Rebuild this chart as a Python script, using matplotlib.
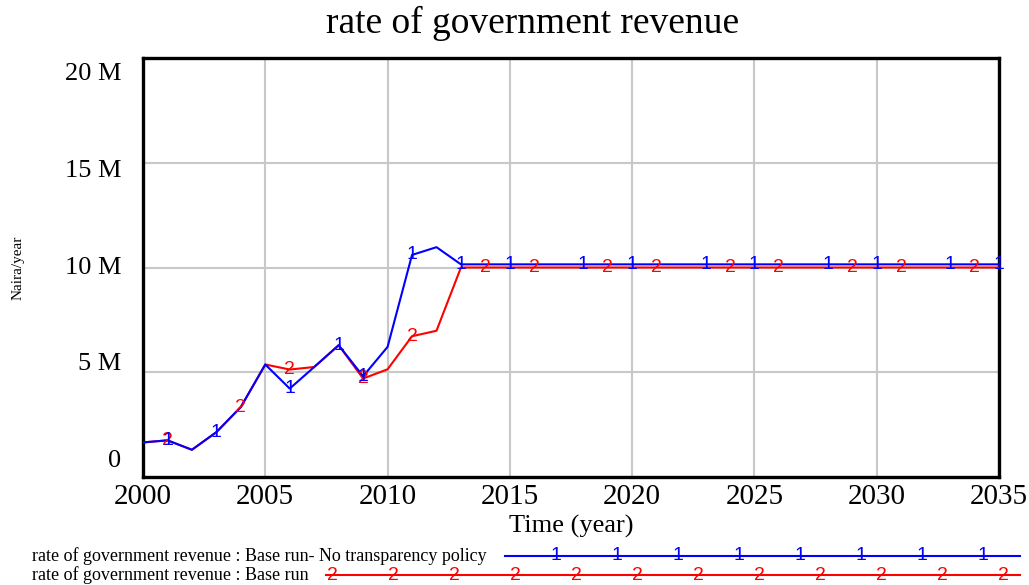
import matplotlib
matplotlib.use("Agg")
import matplotlib.pyplot as plt
import numpy as np
from matplotlib.transforms import ScaledTranslation, blended_transform_factory

# ---- data ----
years = list(range(2000, 2036))
no_transparency = [1.65, 1.75, 1.30, 2.14, 3.34, 5.37, 4.22, 5.25, 6.29, 4.81,
                   6.21, 10.60, 10.97, 10.15, 10.15, 10.15, 10.15, 10.15, 10.15, 10.15,
                   10.15, 10.15, 10.15, 10.15, 10.15, 10.15, 10.15, 10.15, 10.15, 10.15,
                   10.15, 10.15, 10.15, 10.15, 10.15, 10.15]
base_run = [1.65, 1.75, 1.30, 2.14, 3.34, 5.37, 5.13, 5.25, 6.29, 4.70,
            5.14, 6.72, 6.98, 10.00, 10.00, 10.00, 10.00, 10.00, 10.00, 10.00,
            10.00, 10.00, 10.00, 10.00, 10.00, 10.00, 10.00, 10.00, 10.00, 10.00,
            10.00, 10.00, 10.00, 10.00, 10.00, 10.00]
marker_years_1 = [2001, 2003, 2006, 2008, 2009, 2011, 2013, 2015, 2018, 2020,
                  2023, 2025, 2028, 2030, 2033, 2035]
marker_years_2 = [2001, 2004, 2006, 2009, 2011, 2014, 2016, 2019, 2021, 2024,
                  2026, 2029, 2031, 2034]
x_ticks = [2000, 2005, 2010, 2015, 2020, 2025, 2030, 2035]
y_ticks = [0, 5, 10, 15, 20]
y_tick_labels = ["0", "5 M", "10 M", "15 M", "20 M"]
title = "rate of government revenue"
x_label = "Time (year)"
y_label = "Naira/year"
legend_1 = "rate of government revenue : Base run- No transparency policy"
legend_2 = "rate of government revenue : Base run"

BLUE = "#0000ff"
RED = "#ff0000"
SERIF = ["Liberation Serif", "DejaVu Serif"]
SANS = ["Liberation Sans", "DejaVu Sans"]

W, H = 1029, 585
fig = plt.figure(figsize=(W / 100, H / 100), dpi=100)
ax = fig.add_axes([143 / W, 1 - 477 / H, (999 - 143) / W, (477 - 58) / H])

ax.set_xlim(2000, 2035)
ax.set_ylim(0, 20)
ax.set_xticks(x_ticks)
ax.set_yticks(y_ticks)
ax.grid(True, color="#c8c8c8", linewidth=1.5)
ax.set_axisbelow(True)
ax.tick_params(length=0, labelleft=False, labelbottom=False)
for s in ax.spines.values():
    s.set_linewidth(2.4)
    s.set_color("black")

ax.plot(years, base_run, color=RED, linewidth=1.5, zorder=3)
ax.plot(years, no_transparency, color=BLUE, linewidth=1.5, zorder=4)

MK = 14
for yr in marker_years_2:
    ax.text(yr, np.interp(yr, years, base_run), "2", color=RED, fontsize=MK,
            family=SANS, ha="center", va="center", zorder=5, clip_on=False)
for yr in marker_years_1:
    ax.text(yr, np.interp(yr, years, no_transparency), "1", color=BLUE, fontsize=MK,
            family=SANS, ha="center", va="center", zorder=6, clip_on=False)

# tick labels (Vensim-style: slightly pulled toward the middle)
xtr = blended_transform_factory(ax.transData, fig.transFigure)
for xv in x_ticks:
    ax.text(xv, 1 - 497 / H, str(xv), transform=xtr,
            ha="center", va="center", fontsize=21, family=SERIF)
ytr = blended_transform_factory(ax.transAxes, ax.transData)
for yv, lab in zip(y_ticks, y_tick_labels):
    off = ScaledTranslation(0, -(yv - 10) / 5 * 8.0 / 100, fig.dpi_scale_trans)
    ax.text(-0.025, yv, lab, transform=ytr + off, ha="right", va="center",
            fontsize=19, family=SERIF)

fig.text(533 / W, 1 - 23 / H, title, ha="center", va="center", fontsize=27, family=SERIF)
fig.text(571 / W, 1 - 526 / H, x_label, ha="center", va="center", fontsize=19, family=SERIF)
fig.text(18 / W, 1 - 268 / H, y_label, ha="center", va="center", rotation=90,
         fontsize=11, family=SERIF)

# legend
fig.text(32 / W, 1 - 556 / H, legend_1, ha="left", va="center", fontsize=13, family=SERIF)
fig.text(32 / W, 1 - 575 / H, legend_2, ha="left", va="center", fontsize=13, family=SERIF)
fig.add_artist(plt.Line2D([505 / W, 1020 / W], [1 - 556 / H, 1 - 556 / H],
                          color=BLUE, linewidth=1.5, transform=fig.transFigure))
fig.add_artist(plt.Line2D([326 / W, 1020 / W], [1 - 575 / H, 1 - 575 / H],
                          color=RED, linewidth=1.5, transform=fig.transFigure))
for i in range(8):
    fig.text((556 + i * 61) / W, 1 - 556 / H, "1", color=BLUE, fontsize=MK,
             family=SANS, ha="center", va="center")
for i in range(12):
    fig.text((332 + i * 61) / W, 1 - 575 / H, "2", color=RED, fontsize=MK,
             family=SANS, ha="center", va="center")

fig.savefig("out.png", dpi=100)
